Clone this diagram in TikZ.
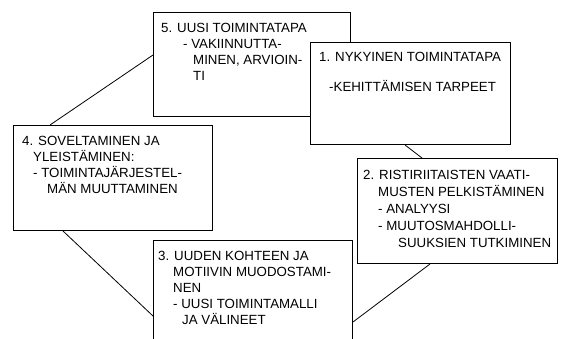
\documentclass[tikz,border=0pt]{standalone}
\usepackage{fontspec}
\setmainfont{Liberation Sans}
\begin{document}
\begin{tikzpicture}[x=1pt,y=-1pt,
  box/.style={draw,line width=1pt,fill=white,rectangle,inner sep=0pt,
    anchor=north west,minimum width=199pt,minimum height=104pt},
  lbl/.style={anchor=base west,inner sep=0pt,yshift=-4.8pt,
    font=\fontsize{13.3}{15}\selectfont},
  link/.style={line width=0.8pt}]
\useasboundingbox (0,0) rectangle (561,339);
\clip (0,0) rectangle (561,339);

% phase boxes (box 1 lies over box 5)
\node[box,minimum width=197pt] (b5) at (153,12) {};
\node[box,minimum width=200pt,minimum height=102pt] (b1) at (310,42) {};
\node[box,minimum height=105pt] (b4) at (13,125) {};
\node[box,minimum width=200pt,minimum height=105pt] (b2) at (357,158) {};
\node[box,minimum height=120pt] (b3) at (153,240) {};

% connectors between the phases
\draw[link] ([yshift=-43pt]b5.north west) -- ([xshift=37pt]b4.north west);
\draw[link] ([xshift=95pt]b1.south west) -- ([xshift=65pt]b2.north west);
\draw[link] ([xshift=50pt]b4.south west) -- ([yshift=-76pt]b3.north west);
\draw[link] ([xshift=73pt]b2.south west) -- ([yshift=-82pt]b3.north east);

% 5
\node[lbl] (t5a) at (161,28) {5. UUSI TOIMINTATAPA};
\node[lbl] (t5b) at (183,44) {- VAKIINNUTTA-};
\node[lbl] (t5c) at (193,60) {MINEN, ARVIOIN-};
\node[lbl] (t5d) at (193,76) {TI};
% 1
\node[lbl] (t1a) at (319,57) {1. NYKYINEN TOIMINTATAPA};
\node[lbl] (t1b) at (329,87) {-KEHITTÄMISEN TARPEET};
% 4
\node[lbl] (t4a) at (22,141) {4. SOVELTAMINEN JA};
\node[lbl] (t4b) at (33,157) {YLEISTÄMINEN:};
\node[lbl] (t4c) at (33,173) {- TOIMINTAJÄRJESTEL-};
\node[lbl] (t4d) at (47,189) {MÄN MUUTTAMINEN};
% 2
\node[lbl] (t2a) at (363,175) {2. RISTIRIITAISTEN VAATI-};
\node[lbl] (t2b) at (378,192) {MUSTEN PELKISTÄMINEN};
\node[lbl] (t2c) at (378,209) {- ANALYYSI};
\node[lbl] (t2d) at (378,226) {- MUUTOSMAHDOLLI-};
\node[lbl] (t2e) at (398,243) {SUUKSIEN TUTKIMINEN};
% 3
\node[lbl] (t3a) at (158,256) {3. UUDEN KOHTEEN JA};
\node[lbl] (t3b) at (173,272) {MOTIIVIN MUODOSTAMI-};
\node[lbl] (t3c) at (173,288) {NEN};
\node[lbl] (t3d) at (173,304) {- UUSI TOIMINTAMALLI};
\node[lbl] (t3e) at (182,320) {JA VÄLINEET};
\end{tikzpicture}
\end{document}
